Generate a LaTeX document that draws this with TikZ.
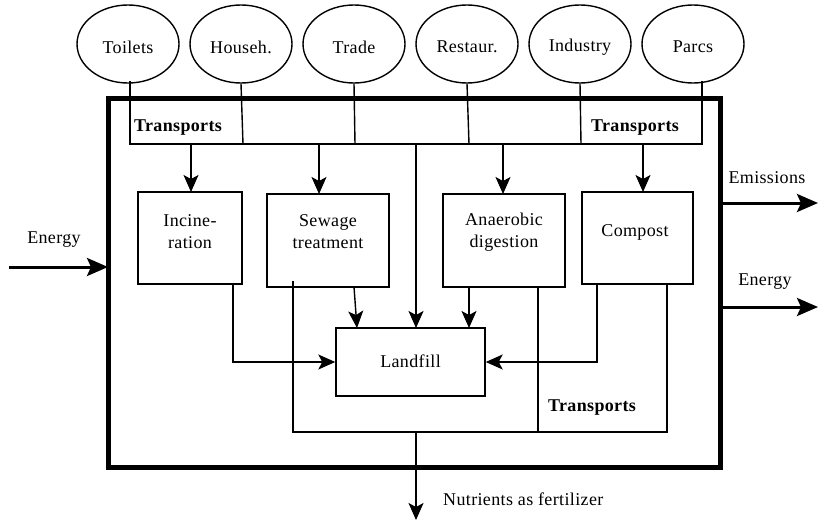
\documentclass[tikz,border=0pt]{standalone}
\usepackage{fontspec}
\setmainfont{Liberation Serif}[LetterSpace=2]
\usetikzlibrary{arrows.meta,shapes.geometric}
\begin{document}
\begin{tikzpicture}[x=1pt,y=-1pt,
  src/.style={draw,ellipse,line width=1.4pt,minimum width=102pt,minimum height=78pt,inner sep=0pt},
  procbox/.style={draw,rectangle,line width=1.4pt,inner sep=0pt},
  thin/.style={line width=1.4pt},
  arr/.style={thin,-{Stealth[length=17pt,width=15pt,inset=4pt]}},
  bigarr/.style={line width=3pt,-{Stealth[length=21pt,width=18pt,inset=4pt]}},
  txt/.style={font=\fontsize{18}{22}\selectfont,inner sep=0pt,align=center},
  btxt/.style={font=\fontsize{18}{22}\selectfont\bfseries,inner sep=0pt}
]
\useasboundingbox (0,0) rectangle (818,522);
\fill[white] (0,0) rectangle (818,522);

% outer system box
\draw[line width=5pt] (108,98) rectangle (720,467);

% sources
\node[src] (toi) at (128,44) {}; \node[txt] at (128,47) {Toilets};
\node[src] (hou) at (241,44) {}; \node[txt] at (241,47) {Househ.};
\node[src] (tra) at (354,44) {}; \node[txt] at (354,47) {Trade};
\node[src] (res) at (467,44) {}; \node[txt] at (467,47) {Restaur.};
\node[src] (ind) at (580,44) {}; \node[txt] at (580,47) {Industry};
\node[src] (par) at (693,44) {}; \node[txt] at (693,47) {Parcs};

% processes
\node[procbox,minimum width=104pt,minimum height=92pt] (inc) at (190,238) {};
\node[txt] (incT) at (190,232) {Incine-\\ration};
\node[procbox,minimum width=122pt,minimum height=93pt] (sew) at (328,240.5) {};
\node[txt] (sewT) at (328,232) {Sewage\\treatment};
\node[procbox,minimum width=122pt,minimum height=93pt] (ana) at (504,240.5) {};
\node[txt] (anaT) at (504,232) {Anaerobic\\digestion};
\node[procbox,minimum width=111pt,minimum height=92pt] (com) at (637.5,238) {};
\node[txt] (comT) at (635,232) {Compost};
\node[procbox,minimum width=149pt,minimum height=68pt] (lan) at (410.5,362) {};
\node[txt] (lanT) at (410.5,361) {Landfill};

% upper transport collector
\coordinate (tl) at (130,144);
\coordinate (tr) at (702,144);
\draw[thin] (130,81) -- (tl) -- (tr) -- (702,81);
\draw[thin] (hou.south) -- (243,144);
\draw[thin] (tra.south) -- (355,144);
\draw[thin] (res.south) -- (469,144);
\draw[thin] (ind.south) -- (581,144);
\node[btxt] (tr1) at (178,128) {Transports};
\node[btxt] (tr2) at (635,128) {Transports};

% distribution to processes
\draw[arr] (191,144) -- (191,192);
\draw[arr] (319,144) -- (319,194);
\draw[arr] (416,144) -- (416,328);
\draw[arr] (503,144) -- (503,194);
\draw[arr] (643,144) -- (643,192);

% to landfill
\draw[arr] (233,284) -- (233,362) -- (lan.west |- 0,362);
\draw[arr] (597,284) -- (597,362) -- (lan.east |- 0,362);
\draw[arr] (354,287) -- (357,328);
\draw[arr] (469,287) -- (469,328);

% lower transport collector
\coordinate (bl) at (293,432);
\coordinate (br) at (667,432);
\draw[thin] (293,281) -- (bl) -- (br) -- (667,284);
\draw[thin] (538,287) -- (538,432);
\node[btxt] (tr3) at (592,408) {Transports};
\coordinate (nout) at (416,520);
\draw[arr] (416,432) -- (nout);
\node[txt,anchor=west] (nutT) at (443,499) {Nutrients as fertilizer};

% energy and emissions
\coordinate (ein) at (9,267);
\draw[bigarr] (ein) -- (108,267);
\node[txt] (einT) at (54,240) {Energy};
\coordinate (emo) at (818,203);
\draw[bigarr] (720,203) -- (emo);
\node[txt] (emoT) at (767,178) {Emissions};
\coordinate (eno) at (818,307);
\draw[bigarr] (720,307) -- (eno);
\node[txt] (enoT) at (765,282) {Energy};
\end{tikzpicture}
\end{document}
